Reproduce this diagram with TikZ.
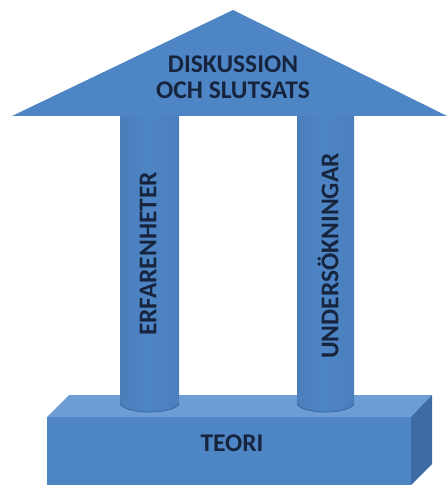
\documentclass[tikz,border=0pt]{standalone}
\usepackage{fontspec}
\setmainfont{Carlito}
\usepackage{tikz}
\usetikzlibrary{positioning}
\definecolor{templeblue}{RGB}{78,133,197}
\definecolor{templelight}{RGB}{108,157,213}
\definecolor{templedark}{RGB}{61,107,163}
\definecolor{labelnavy}{RGB}{22,36,62}
\tikzset{
  templetext/.style={text=labelnavy, inner sep=0pt,
    font=\bfseries\fontsize{14.5}{14.7}\selectfont},
}

\begin{document}
\begin{tikzpicture}[x=.02cm, y=-.02cm, line join=round]
  \useasboundingbox (0,0) rectangle (447,486);

  % Base slab: front face, lit top face and shaded right face.
  \fill[templeblue] (47,417) rectangle (411,485);
  \fill[templelight] (47,417) -- (69,395) -- (432,395) -- (411,417) -- cycle;
  \fill[templedark] (411,417) -- (432,395) -- (432,464) -- (411,485) -- cycle;

  % Two round columns; the tops are hidden under the roof.
  \foreach \colx/\colw in {120/59,297/57}{
    \shade[left color=templeblue!95!black, right color=templeblue!95!black,
      middle color=templeblue]
      (\colx,110) -- (\colx,403)
      arc[start angle=180, end angle=0, x radius=\colw/2, y radius=9]
      -- (\colx+\colw,110) -- cycle;
    \draw[templedark, line width=.5pt] (\colx,403)
      arc[start angle=180, end angle=0, x radius=\colw/2, y radius=9];
  }

  % Roof.
  \fill[templeblue] (12,116) -- (233,10) -- (447,116) -- cycle;

  \node[templetext, align=center] (roof) at (233,77)
    {DISKUSSION\\OCH SLUTSATS};
  \node[templetext, rotate=90] (erfar) at (148,254) {ERFARENHETER};
  \node[templetext, rotate=90] (unders) at (328,256) {UNDERSÖKNINGAR};
  \node[templetext] (teori) at (232,443) {TEORI};
\end{tikzpicture}
\end{document}
